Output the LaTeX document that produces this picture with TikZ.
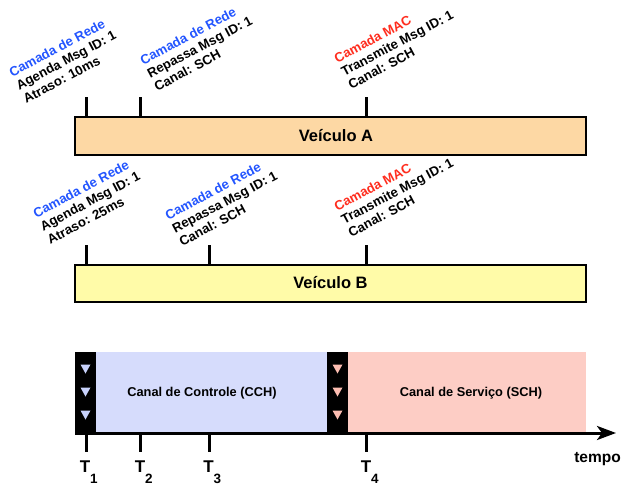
\documentclass[tikz,border=0pt]{standalone}
\usepackage{fontspec}
\setmainfont{Liberation Sans}
\usetikzlibrary{arrows.meta}
\definecolor{peach}{RGB}{253,216,164}
\definecolor{paleyellow}{RGB}{255,251,168}
\definecolor{ccblue}{RGB}{214,220,252}
\definecolor{scpink}{RGB}{253,205,197}
\definecolor{triblue}{RGB}{200,210,252}
\definecolor{tripink}{RGB}{253,190,178}
\definecolor{netblue}{RGB}{35,85,255}
\definecolor{macred}{RGB}{255,45,30}
\begin{document}
\begin{tikzpicture}[x=1pt,y=-1pt,
  vbox/.style={draw=black, line width=2pt, minimum width=511pt, inner sep=0pt},
  vtext/.style={inner sep=0pt, font=\bfseries\fontsize{16.5}{16.5}\selectfont},
  tickline/.style={line width=3pt},
  lbl/.style={rotate=28, anchor=north west, inner sep=0pt, align=left, font=\bfseries\fontsize{13.2}{15}\selectfont},
  band/.style={fill=black, minimum width=21pt, minimum height=80pt, inner sep=0pt},
  region/.style={minimum height=80pt, inner sep=0pt},
  ctext/.style={inner sep=0pt, font=\bfseries\fontsize{12.8}{12.8}\selectfont},
  tlabel/.style={anchor=base, inner sep=0pt, font=\bfseries\fontsize{17}{17}\selectfont},
  axisline/.style={line width=3pt, -{Stealth[length=19pt,width=14pt,inset=5pt]}}
]
\useasboundingbox (0,0) rectangle (623,487);

% vehicle boxes
\node[vbox, fill=peach, minimum height=38pt] (va) at (330.5,136) {};
\node[vtext] (vat) at (336,135.5) {Veículo A};
\node[vbox, fill=paleyellow, minimum height=37pt] (vb) at (330.5,283.5) {};
\node[vtext] (vbt) at (330.5,282.5) {Veículo B};

% ticks above boxes
\coordinate (a1) at (86,97);
\coordinate (a2) at (140,97);
\coordinate (a3) at (366,97);
\coordinate (b1) at (86,245);
\coordinate (b2) at (209,245);
\coordinate (b3) at (366,245);
\foreach \c in {a1,a2,a3} \draw[tickline] (\c) -- (\c |- va.north);
\foreach \c in {b1,b2,b3} \draw[tickline] (\c) -- (\c |- vb.north);

% rotated labels
\node[lbl] (la1) at (7.5,68.6) {\textcolor{netblue}{Camada de Rede}\\Agenda Msg ID: 1\\Atraso: 10ms};
\node[lbl] (la2) at (138.5,56.6) {\textcolor{netblue}{Camada de Rede}\\Repassa Msg ID: 1\\Canal: SCH};
\node[lbl] (la3) at (332.5,54.6) {\textcolor{macred}{Camada MAC}\\Transmite Msg ID: 1\\Canal: SCH};
\node[lbl] (lb1) at (31.5,209.6) {\textcolor{netblue}{Camada de Rede}\\Agenda Msg ID: 1\\Atraso: 25ms};
\node[lbl] (lb2) at (163.5,211.6) {\textcolor{netblue}{Camada de Rede}\\Repassa Msg ID: 1\\Canal: SCH};
\node[lbl] (lb3) at (332.5,202.6) {\textcolor{macred}{Camada MAC}\\Transmite Msg ID: 1\\Canal: SCH};

% channel timeline
\node[region, fill=ccblue, minimum width=231pt] (cch) at (211.5,392) {};
\node[region, fill=scpink, minimum width=238pt] (sch) at (467,392) {};
\node[band] (g1) at (85.5,392) {};
\node[band] (g2) at (337.5,392) {};
\node[ctext] (ccht) at (202,393) {Canal de Controle (CCH)};
\node[ctext] (scht) at (471,393) {Canal de Serviço (SCH)};

\foreach \y in {369,392,415} {
  \fill[triblue] (80.5,\y-4.5) -- (90.5,\y-4.5) -- (85.5,\y+4.5) -- cycle;
  \fill[tripink] (332.5,\y-4.5) -- (342.5,\y-4.5) -- (337.5,\y+4.5) -- cycle;
}

% time axis
\coordinate (ax0) at (75,433);
\coordinate (ax1) at (616,433);
\draw[axisline] (ax0) -- (ax1);

\coordinate (t1) at (86,452);
\coordinate (t2) at (140,452);
\coordinate (t3) at (209,452);
\coordinate (t4) at (366,452);
\foreach \c in {t1,t2,t3,t4} \draw[tickline] (\c |- ax0) -- (\c);

\node[tlabel] (T1) at (85,472) {T\rlap{\raisebox{-11pt}{\fontsize{13.5}{13.5}\selectfont 1}}};
\node[tlabel] (T2) at (140,472) {T\rlap{\raisebox{-11pt}{\fontsize{13.5}{13.5}\selectfont 2}}};
\node[tlabel] (T3) at (208.5,472) {T\rlap{\raisebox{-11pt}{\fontsize{13.5}{13.5}\selectfont 3}}};
\node[tlabel] (T4) at (366,472) {T\rlap{\raisebox{-11pt}{\fontsize{13.5}{13.5}\selectfont 4}}};

\node[anchor=base, inner sep=0pt, font=\bfseries\fontsize{15.5}{15.5}\selectfont] (tempo) at (597.5,462) {tempo};
\end{tikzpicture}
\end{document}
